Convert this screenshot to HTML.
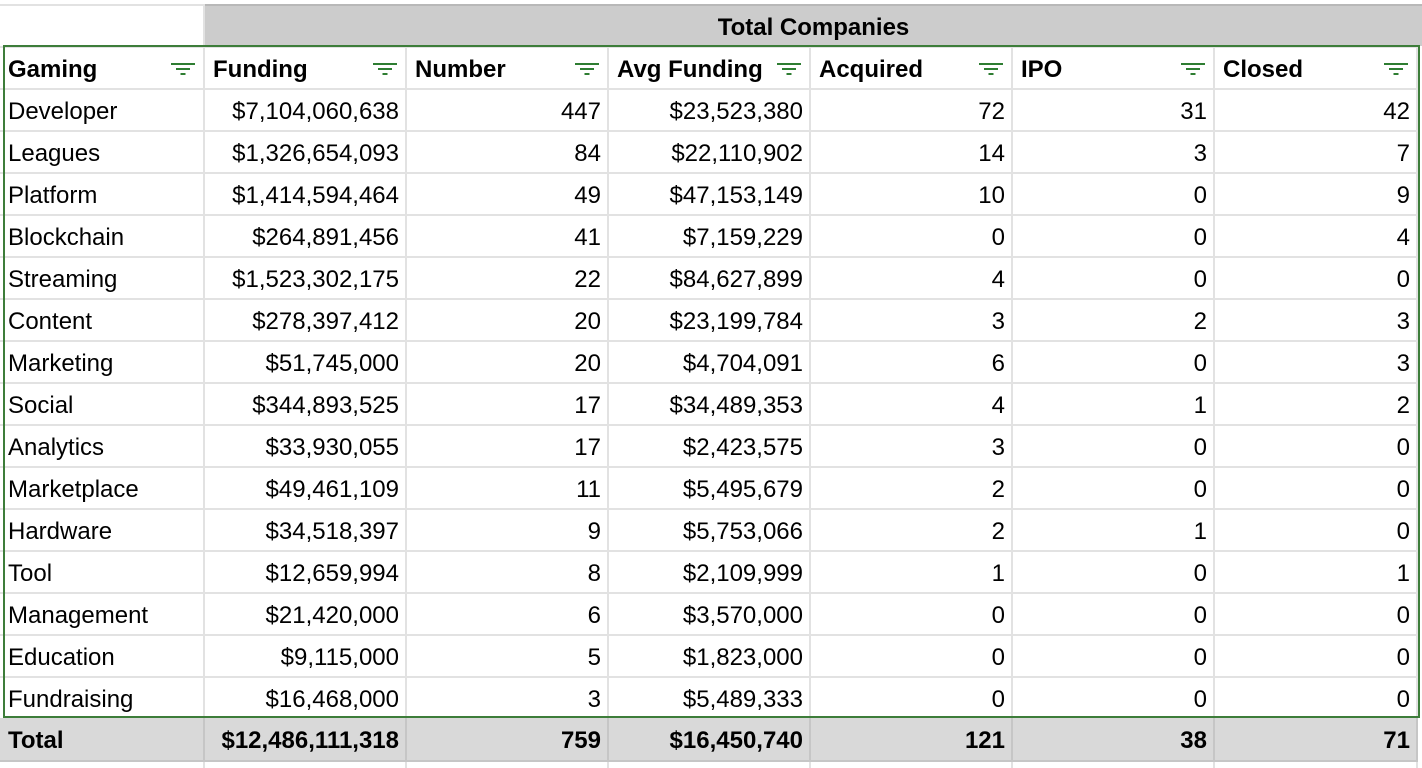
<!DOCTYPE html>
<html><head><meta charset="utf-8">
<style>
html,body{margin:0;padding:0;background:#fff;width:1422px;height:768px;overflow:hidden;position:relative;font-family:"Liberation Sans",Arial,sans-serif;}
.c{position:absolute;box-sizing:border-box;font-size:24px;line-height:43px;white-space:nowrap;color:#000;padding:0 6px 0 8px;border-right:2px solid #e2e2e2;border-bottom:2px solid #e2e2e2;overflow:hidden;}
.r{text-align:right;}
.b{font-weight:bold;}
.f{position:absolute;width:24px;height:12px;}
.f i{position:absolute;height:2px;background:#2e7d32;left:50%;transform:translateX(-50%);}
</style></head><body>
<div id="sheet"></div>
<div style="position:absolute;left:205px;top:4px;width:1217px;height:42px;background:#cccccc;border-top:2px solid #b8b8b8;box-sizing:border-box;font-weight:bold;font-size:24px;line-height:44px;text-align:center;">Total Companies</div>
<div style="position:absolute;left:3px;top:45px;width:1417px;height:673px;border:2px solid #3d7d3a;box-sizing:border-box;pointer-events:none;z-index:5;"></div>
<script>
const headers=["Gaming","Funding","Number","Avg Funding","Acquired","IPO","Closed"];
const rows=[
["Developer","$7,104,060,638","447","$23,523,380","72","31","42"],
["Leagues","$1,326,654,093","84","$22,110,902","14","3","7"],
["Platform","$1,414,594,464","49","$47,153,149","10","0","9"],
["Blockchain","$264,891,456","41","$7,159,229","0","0","4"],
["Streaming","$1,523,302,175","22","$84,627,899","4","0","0"],
["Content","$278,397,412","20","$23,199,784","3","2","3"],
["Marketing","$51,745,000","20","$4,704,091","6","0","3"],
["Social","$344,893,525","17","$34,489,353","4","1","2"],
["Analytics","$33,930,055","17","$2,423,575","3","0","0"],
["Marketplace","$49,461,109","11","$5,495,679","2","0","0"],
["Hardware","$34,518,397","9","$5,753,066","2","1","0"],
["Tool","$12,659,994","8","$2,109,999","1","0","1"],
["Management","$21,420,000","6","$3,570,000","0","0","0"],
["Education","$9,115,000","5","$1,823,000","0","0","0"],
["Fundraising","$16,468,000","3","$5,489,333","0","0","0"]];
const totals=["Total","$12,486,111,318","759","$16,450,740","121","38","71"];
const colX=[0,205,407,609,811,1013,1215,1418];
const sheet=document.getElementById('sheet');
for(let j=0;j<7;j++){
  const d=document.createElement('div');
  d.className='c';
  d.style.left=colX[j]+'px';d.style.top='4px';d.style.width=(colX[j+1]-colX[j])+'px';d.style.height='44px';
  d.style.borderTop='2px solid #e2e2e2';
  
  
  sheet.appendChild(d);
}
for(let j=0;j<7;j++){
  const d=document.createElement('div');
  d.className='c';
  d.style.left=colX[j]+'px';d.style.top='762px';d.style.width=(colX[j+1]-colX[j])+'px';d.style.height='20px';
  
  
  sheet.appendChild(d);
}
function cell(text,j,top,cls,bg){
  const d=document.createElement('div');
  d.className='c '+cls;
  d.style.left=colX[j]+'px';d.style.top=top+'px';d.style.width=(colX[j+1]-colX[j])+'px';d.style.height='42px';
  if(bg)d.style.background=bg;
  d.textContent=text;
  sheet.appendChild(d);
  return d;
}
headers.forEach((h,j)=>{
  const d=cell(h,j,48,'b','#fff');
  
  
  const f=document.createElement('div');
  f.className='f';
  f.style.left=(colX[j+1]-34)+'px';f.style.top='63px';
  f.innerHTML='<i style="top:0;width:24px"></i><i style="top:5px;width:14px"></i><i style="top:10px;width:5px"></i>';
  
  
  sheet.appendChild(f);
});
rows.forEach((r,i)=>{
  r.forEach((v,j)=>{
    const d=cell(v,j,90+42*i,j==0?'':'r');
    
    
  });
});
totals.forEach((v,j)=>{
  const d=cell(v,j,718,j==0?'b':'b r','#d9d9d9');
  d.style.height='44px';
  d.style.lineHeight='46px';
  d.style.borderRight='2px solid #c6c6c6';
  d.style.borderBottom='2px solid #c6c6c6';
  
  
});
</script>
</body></html>
